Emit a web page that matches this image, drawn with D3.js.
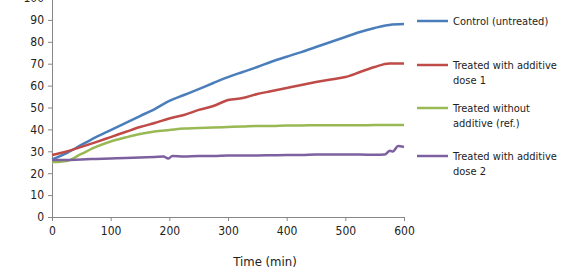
<!DOCTYPE html>
<html>
<head>
<meta charset="utf-8">
<script src="https://cdn.jsdelivr.net/npm/d3@7"></script>
<style>
  body { margin: 0; background: #fff; }
  svg text { font-family: "DejaVu Sans Condensed", "Liberation Sans Narrow", sans-serif; fill: #222; }
</style>
</head>
<body>
<svg id="chart" width="567" height="275"></svg>
<script>
// chart data
var times = [0, 25, 50, 75, 100, 125, 150, 175, 200, 225, 250, 275, 300,
             325, 350, 375, 400, 425, 450, 475, 500, 525, 550, 575, 600];
var controlValues = [26.3, 29.2, 32.9, 36.5, 39.7, 42.9, 46.1, 49.3, 53.0, 55.7, 58.4, 61.2, 63.9,
                     66.2, 68.5, 71.0, 73.2, 75.3, 77.6, 79.9, 82.2, 84.5, 86.3, 87.7, 88.1];
var treatedAValues = [28.3, 29.9, 32.0, 34.2, 36.5, 38.8, 41.1, 42.9, 45.0, 46.6, 48.9, 50.7, 53.4,
                      54.3, 56.2, 57.5, 58.9, 60.3, 61.6, 62.8, 63.9, 66.2, 68.5, 70.1, 70.1];
var treatedBValues = [25.1, 25.6, 28.8, 32.0, 34.5, 36.3, 37.9, 39.0, 39.7, 40.4, 40.6, 40.9, 41.1,
                      41.3, 41.6, 41.6, 41.8, 41.8, 41.9, 41.9, 41.9, 41.9, 42.0, 42.0, 42.0];
var purpleTimes = [0, 25, 50, 75, 100, 125, 150, 175, 190, 198, 205, 225, 250, 275, 300,
                   325, 350, 375, 400, 425, 450, 475, 500, 525, 550, 567, 576, 581, 590, 600];
var treatedCValues = [26.0, 26.0, 26.3, 26.5, 26.7, 26.9, 27.2, 27.4, 27.6, 26.7, 27.8, 27.6, 27.9, 27.9, 28.1,
                      28.1, 28.1, 28.2, 28.3, 28.3, 28.5, 28.5, 28.5, 28.5, 28.4, 28.5, 30.3, 29.9, 32.4, 32.0];

var xTicks = [0, 100, 200, 300, 400, 500, 600];
var yTicks = [0, 10, 20, 30, 40, 50, 60, 70, 80, 90, 100];
var xTitle = "Time (min)";

var series = [
  {name: ["Control (untreated)"], x: times, y: controlValues, color: "#4a7ebb"},
  {name: ["Treated with additive", "dose 1"], x: times, y: treatedAValues, color: "#be4b48"},
  {name: ["Treated without", "additive (ref.)"], x: times, y: treatedBValues, color: "#98b954"},
  {name: ["Treated with additive", "dose 2"], x: purpleTimes, y: treatedCValues, color: "#7d60a0"}
];

var svg = d3.select("#chart");
var plotLeft = 52, plotRight = 404, plotTop = -2, plotBottom = 217;

var x = d3.scaleLinear().domain([0, 600]).range([plotLeft, plotRight]);
var y = d3.scaleLinear().domain([0, 100]).range([plotBottom, plotTop]);

// axes
var xAxis = svg.append("g")
    .attr("transform", "translate(0," + plotBottom + ")")
    .call(d3.axisBottom(x).tickValues(xTicks).tickSize(4).tickPadding(5).tickSizeOuter(0));
var yAxis = svg.append("g")
    .attr("transform", "translate(" + plotLeft + ",0)")
    .call(d3.axisLeft(y).tickValues(yTicks).tickSize(4).tickPadding(4).tickSizeOuter(0));

[xAxis, yAxis].forEach(function(a){
  a.select(".domain").attr("stroke", "#878787");
  a.selectAll(".tick line").attr("stroke", "#878787");
  a.selectAll(".tick text").attr("font-size", 12).attr("fill", "#222")
    .attr("font-family", "'DejaVu Sans Condensed', sans-serif");
});

svg.append("text")
    .attr("x", 265)
    .attr("y", 266)
    .attr("text-anchor", "middle")
    .attr("font-size", 13)
    .text(xTitle);

// lines
var line = d3.line()
    .x(function(d) { return x(d[0]); })
    .y(function(d) { return y(d[1]); })
    .curve(d3.curveMonotoneX);

series.forEach(function(s){
  var pts = s.x.map(function(t, i) { return [t, s.y[i]]; });
  svg.append("path")
      .datum(pts)
      .attr("fill", "none")
      .attr("stroke", s.color)
      .attr("stroke-width", 2.5)
      .attr("stroke-linejoin", "round")
      .attr("d", line);
});

// legend
var legendY = [21, 65, 108, 156];
series.forEach(function(s, i){
  var g = svg.append("g").attr("transform", "translate(417," + legendY[i] + ")");
  g.append("line")
      .attr("x1", 0).attr("x2", 31)
      .attr("stroke", s.color)
      .attr("stroke-width", 2.5);
  s.name.forEach(function(t, j){
    var txt = g.append("text")
        .attr("x", 36)
        .attr("y", j * 15)
        .attr("dy", "0.35em")
        .attr("font-size", 11)
        .text(t);
    // squeeze long lines so they stay inside the picture
    if (txt.node().getComputedTextLength() > 104) {
      txt.attr("textLength", 104).attr("lengthAdjust", "spacingAndGlyphs");
    }
  });
});
</script>
</body>
</html>
